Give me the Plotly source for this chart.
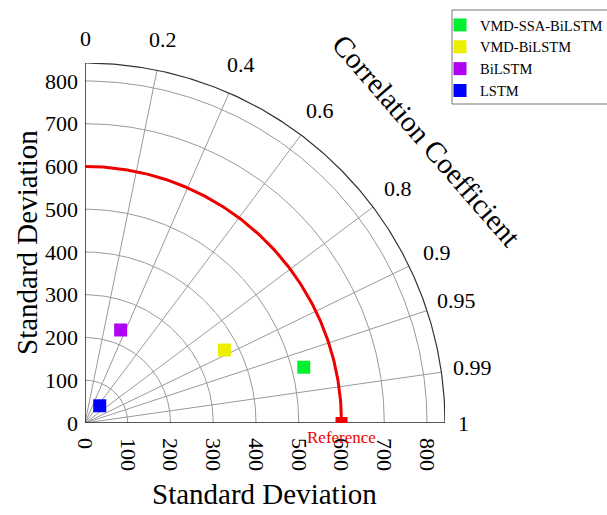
import numpy as np
import plotly.graph_objects as go

# ---- data ----
models = ["VMD-SSA-BiLSTM", "VMD-BiLSTM", "BiLSTM", "LSTM"]
std_devs = [528, 368, 233, 53]
correlations = [0.969, 0.886, 0.358, 0.65]
colors = ["#00F030", "#EEEE00", "#B000F5", "#0000FF"]

ref_std = 600
r_max = 842
std_ticks = [0, 100, 200, 300, 400, 500, 600, 700, 800]
corr_grid = [0.2, 0.4, 0.6, 0.8, 0.9, 0.95, 0.99]
corr_labels = [0, 0.2, 0.4, 0.6, 0.8, 0.9, 0.95, 0.99, 1]

FONT = "Liberation Serif"
L, T, W, H = 85, 63, 360, 360
fig = go.Figure()

th = np.linspace(0, np.pi / 2, 200)
# std circles
for s in std_ticks[1:]:
    fig.add_trace(go.Scatter(x=s * np.cos(th), y=s * np.sin(th), mode="lines",
                             line=dict(color="#9a9a9a", width=1), hoverinfo="skip",
                             showlegend=False))
# correlation rays
for c in corr_grid:
    a = np.arccos(c)
    fig.add_trace(go.Scatter(x=[0, r_max * np.cos(a)], y=[0, r_max * np.sin(a)], mode="lines",
                             line=dict(color="#9a9a9a", width=1), hoverinfo="skip",
                             showlegend=False))
# outer arc
fig.add_trace(go.Scatter(x=r_max * np.cos(th), y=r_max * np.sin(th), mode="lines",
                         line=dict(color="#333333", width=1.2), hoverinfo="skip",
                         showlegend=False, cliponaxis=False))
# axis lines
fig.add_trace(go.Scatter(x=[0, 0, r_max], y=[r_max, 0, 0], mode="lines",
                         line=dict(color="#222222", width=1.5), hoverinfo="skip",
                         showlegend=False, cliponaxis=False))
# reference arc
fig.add_trace(go.Scatter(x=ref_std * np.cos(th), y=ref_std * np.sin(th), mode="lines",
                         line=dict(color="#EE0000", width=3), hoverinfo="skip",
                         showlegend=False))
fig.add_trace(go.Scatter(x=[ref_std], y=[0], mode="markers",
                         marker=dict(symbol="square", size=12, color="#EE0000"),
                         showlegend=False, cliponaxis=True))

# model points
for m, s, c, col in zip(models, std_devs, correlations, colors):
    a = np.arccos(c)
    fig.add_trace(go.Scatter(x=[s * np.cos(a)], y=[s * np.sin(a)], mode="markers", name=m,
                             marker=dict(symbol="square", size=13, color=col),
                             cliponaxis=False))


def px(v):
    return v / r_max


# correlation labels (paper coords computed from data units)
annotations = []
for c in corr_labels:
    a = np.arccos(c)
    R = 900 if c == 0 else (885 if c == 1 else 915)
    annotations.append(dict(x=px(R * np.cos(a)), y=px(R * np.sin(a)), xref="paper", yref="paper",
                            text=str(c), showarrow=False, xanchor="center", yanchor="middle",
                            font=dict(family=FONT, size=22, color="black")))
annotations.append(dict(x=px(ref_std), y=-0.008, xref="paper", yref="paper", text="Reference",
                        showarrow=False, xanchor="center", yanchor="top",
                        font=dict(family=FONT, size=17, color="#EE0000")))


def pix(x, y):
    return (x - L) / W, (T + H - y) / H


for txt, (x, y), ang in [("Correlation Coefficient", (426, 140), 49),
                         ("Standard Deviation", (27, 243), -90),
                         ("Standard Deviation", (264, 494), 0)]:
    xx, yy = pix(x, y)
    annotations.append(dict(x=xx, y=yy, xref="paper", yref="paper", text=txt,
                            showarrow=False, textangle=ang, xanchor="center", yanchor="middle",
                            font=dict(family=FONT, size=29, color="black")))

# legend frame
bx0, by0 = pix(452, 104)
bx1, by1 = pix(612, 10)
shapes = [dict(type="rect", xref="paper", yref="paper", x0=bx0, y0=by0, x1=bx1, y1=by1,
               line=dict(color="#777777", width=1), fillcolor="white", layer="below")]

lx, ly = pix(440, 9)
fig.update_layout(
    width=607, height=515,
    margin=dict(l=L, r=607 - L - W, t=T, b=515 - T - H, autoexpand=False),
    plot_bgcolor="white", paper_bgcolor="white",
    xaxis=dict(range=[0, r_max], tickvals=std_ticks, tickangle=90, showgrid=False,
               zeroline=False, showline=False, ticks="", ticklabelstandoff=14,
               tickfont=dict(family=FONT, size=22, color="black")),
    yaxis=dict(range=[0, r_max], tickvals=std_ticks, showgrid=False, zeroline=False,
               showline=False, ticks="", ticklabelstandoff=6,
               tickfont=dict(family=FONT, size=22, color="black")),
    legend=dict(x=lx, y=ly, xanchor="left", yanchor="top",
                borderwidth=0, bgcolor="rgba(0,0,0,0)",
                font=dict(family=FONT, size=14.5, color="black"), tracegroupgap=0),
    annotations=annotations,
    shapes=shapes,
    showlegend=True,
)

fig.write_html("out.html")
